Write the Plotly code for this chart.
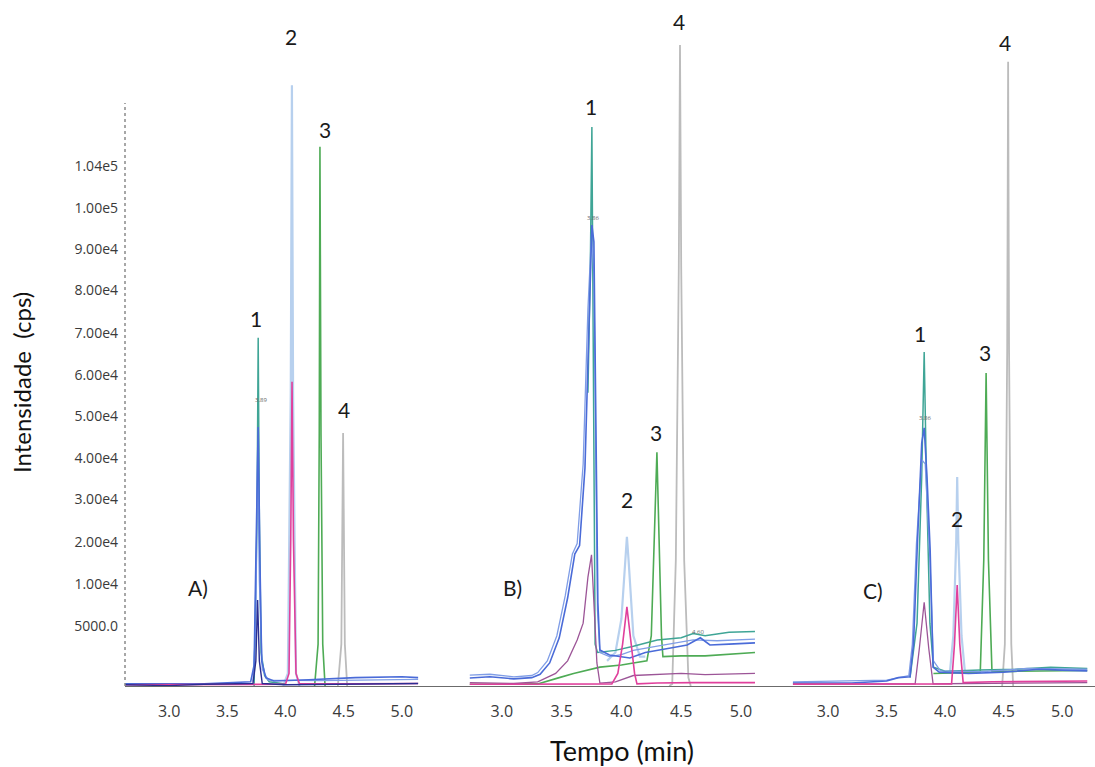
import plotly.graph_objects as go

# ---------------- data (time in min, intensity in axis units) ----------------
# Y tick labels as printed on the original chart (unevenly labelled axis)
y_tick_labels = ["5000.0", "1.00e4", "2.00e4", "3.00e4", "4.00e4", "5.00e4",
                 "6.00e4", "7.00e4", "8.00e4", "9.00e4", "1.00e5", "1.04e5"]
y_tick_pos = [1.42, 2.43, 3.44, 4.45, 5.45, 6.44, 7.43, 8.43, 9.44, 10.43, 11.40, 12.42]
x_tick_vals = [3.0, 3.5, 4.0, 4.5, 5.0]
x_tick_text = ["3.0", "3.5", "4.0", "4.5", "5.0"]

# ---- Panel A ----
A_navy_t = [2.62, 3.0, 3.3, 3.6, 3.72, 3.745, 3.76, 3.775, 3.80, 4.0, 4.5, 5.14]
A_navy_y = [0.03, 0.01, 0.04, 0.05, 0.06, 0.6, 2.05, 0.6, 0.06, 0.03, 0.05, 0.06]
A_blue_t = [2.62, 3.3, 3.70, 3.73, 3.745, 3.765, 3.78, 3.795, 3.83, 3.9, 4.2, 4.6, 5.0, 5.14]
A_blue_y = [0.05, 0.05, 0.1, 0.5, 3.0, 6.18, 3.0, 0.6, 0.2, 0.12, 0.15, 0.2, 0.22, 0.2]
A_lblue_t = [3.72, 3.745, 3.76, 3.775, 3.80, 3.85, 4.3, 5.14]
A_lblue_y = [0.1, 1.5, 5.7, 2.5, 0.4, 0.14, 0.13, 0.16]
A_teal_t = [3.73, 3.755, 3.765, 3.775, 3.79, 3.82, 3.86, 4.0]
A_teal_y = [0.0, 4.0, 8.31, 4.0, 0.8, 0.25, 0.1, 0.05]
A_pale_t = [3.98, 4.02, 4.045, 4.055, 4.065, 4.09, 4.12]
A_pale_y = [0.0, 0.3, 7.0, 14.34, 7.0, 0.3, 0.0]
A_mag_t = [2.62, 3.6, 4.0, 4.03, 4.045, 4.056, 4.068, 4.09, 4.12, 4.6, 5.14]
A_mag_y = [0.03, 0.04, 0.04, 0.3, 3.5, 7.26, 3.5, 0.3, 0.05, 0.05, 0.06]
A_green_t = [4.25, 4.28, 4.29, 4.296, 4.305, 4.32, 4.34]
A_green_y = [0.0, 1.0, 6.0, 12.87, 6.0, 1.0, 0.0]
A_gray_t = [4.45, 4.48, 4.495, 4.51, 4.53]
A_gray_y = [0.0, 1.0, 6.04, 1.0, 0.0]

# ---- Panel B ----
B_blue_t = [2.732, 2.9, 3.1, 3.25, 3.32, 3.40, 3.48, 3.55, 3.61, 3.65, 3.695, 3.728,
            3.753, 3.77, 3.787, 3.803, 3.82, 3.9, 4.07, 4.2, 4.4, 4.55, 4.66, 4.74, 4.9, 5.117]
B_blue_y = [0.19, 0.22, 0.17, 0.2, 0.28, 0.55, 1.15, 2.1, 3.15, 3.35, 5.2, 8.7,
            11.0, 10.6, 6.8, 2.0, 0.86, 0.74, 0.67, 0.8, 0.9, 0.98, 1.15, 0.98, 1.0, 1.03]
B_lblue_t = [2.732, 2.9, 3.1, 3.25, 3.30, 3.38, 3.46, 3.53, 3.59, 3.63, 3.68, 3.72,
             3.75, 3.77, 3.785, 3.80, 3.82, 3.9, 4.0, 4.1, 4.3, 4.5, 4.6, 4.8, 5.117]
B_lblue_y = [0.26, 0.28, 0.22, 0.25, 0.32, 0.6, 1.2, 2.15, 3.15, 3.4, 5.3, 9.0,
             10.8, 9.8, 5.5, 1.8, 0.8, 0.7, 0.75, 0.85, 0.95, 1.05, 1.1, 1.08, 1.12]
B_teal_t = [3.72, 3.74, 3.753, 3.765, 3.78, 3.8, 3.95, 4.1, 4.3, 4.5, 4.6, 4.7, 4.9, 5.117]
B_teal_y = [7.0, 10.0, 13.34, 8.0, 1.0, 0.8, 0.85, 0.95, 1.1, 1.15, 1.25, 1.2, 1.28, 1.3]
B_mauve_t = [2.732, 3.1, 3.3, 3.45, 3.55, 3.63, 3.68, 3.72, 3.75, 3.77, 3.795, 3.82,
             3.95, 4.1, 4.3, 4.5, 4.7, 5.117]
B_mauve_y = [0.08, 0.06, 0.1, 0.3, 0.6, 1.1, 1.5, 2.6, 3.13, 1.8, 0.55, 0.07,
             0.1, 0.25, 0.28, 0.3, 0.27, 0.3]
B_pale_t = [3.88, 3.95, 4.0, 4.035, 4.046, 4.06, 4.1, 4.155, 4.2]
B_pale_y = [0.6, 0.8, 1.6, 3.0, 3.56, 3.0, 1.2, 0.7, 0.7]
B_mag_t = [2.732, 3.3, 3.8, 3.92, 3.97, 4.01, 4.046, 4.08, 4.11, 4.13, 4.3, 4.6, 5.117]
B_mag_y = [0.04, 0.04, 0.05, 0.05, 0.3, 1.0, 1.89, 1.0, 0.3, 0.05, 0.07, 0.08, 0.08]
B_green_t = [2.732, 3.3, 3.48, 3.6, 3.82, 4.0, 4.1, 4.213, 4.25, 4.275, 4.297, 4.315,
             4.335, 4.347, 4.5, 4.7, 4.9, 5.117]
B_green_y = [0.04, 0.05, 0.2, 0.3, 0.45, 0.5, 0.55, 0.6, 1.2, 3.5, 5.58, 3.5,
             1.2, 0.7, 0.72, 0.72, 0.75, 0.8]
B_gray_t = [4.40, 4.425, 4.455, 4.48, 4.49, 4.50, 4.525, 4.56, 4.58]
B_gray_y = [0.0, 0.05, 3.0, 10.0, 15.3, 10.0, 3.0, 0.2, 0.0]

# ---- Panel C ----
C_blue_t = [2.70, 3.2, 3.5, 3.6, 3.70, 3.73, 3.761, 3.80, 3.821, 3.845, 3.872, 3.897,
            3.95, 4.2, 4.5, 4.8, 5.0, 5.214]
C_blue_y = [0.07, 0.07, 0.12, 0.2, 0.22, 1.0, 3.25, 5.8, 6.16, 5.0, 3.25, 0.45,
            0.33, 0.3, 0.33, 0.4, 0.38, 0.36]
C_lblue_t = [2.70, 3.5, 3.69, 3.72, 3.755, 3.80, 3.83, 3.87, 3.90, 3.96, 4.3, 4.7, 5.214]
C_lblue_y = [0.1, 0.14, 0.25, 1.0, 3.4, 5.4, 5.3, 3.0, 0.6, 0.36, 0.34, 0.42, 0.4]
C_teal_t = [3.70, 3.76, 3.80, 3.821, 3.84, 3.87, 3.90, 4.0, 4.3, 4.6, 4.9, 5.214]
C_teal_y = [0.2, 1.5, 5.0, 7.97, 5.0, 1.5, 0.45, 0.35, 0.38, 0.4, 0.45, 0.42]
C_mauve_t = [2.70, 3.5, 3.744, 3.78, 3.821, 3.86, 3.897, 4.2, 5.214]
C_mauve_y = [0.05, 0.05, 0.05, 0.9, 2.0, 0.9, 0.05, 0.06, 0.08]
C_pale_t = [4.04, 4.07, 4.095, 4.103, 4.112, 4.14, 4.17]
C_pale_y = [0.3, 1.2, 3.5, 4.99, 3.5, 1.2, 0.3]
C_mag_t = [2.70, 3.9, 4.055, 4.08, 4.103, 4.125, 4.154, 4.4, 5.214]
C_mag_y = [0.04, 0.05, 0.05, 1.0, 2.41, 1.0, 0.08, 0.1, 0.12]
C_green_t = [3.9, 4.30, 4.33, 4.35, 4.37, 4.40, 4.6, 5.214]
C_green_y = [0.3, 0.33, 3.0, 7.47, 3.0, 0.35, 0.35, 0.37]
C_gray_t = [4.487, 4.51, 4.53, 4.538, 4.546, 4.565, 4.581]
C_gray_y = [0.0, 1.0, 8.0, 14.9, 8.0, 1.0, 0.0]

# peak numbers and panel letters: (text, time, intensity)
A_labels = [("1", 3.747, 8.78), ("2", 4.047, 15.49), ("3", 4.339, 13.27), ("4", 4.502, 6.59), ("A)", 3.249, 2.36)]
B_labels = [("1", 3.745, 13.84), ("4", 4.481, 15.85), ("3", 4.289, 6.04), ("2", 4.046, 4.44), ("B)", 3.092, 2.34)]
C_labels = [("1", 3.786, 8.42), ("3", 4.342, 7.97), ("4", 4.513, 15.37), ("2", 4.103, 3.99), ("C)", 3.385, 2.29)]
small_labels = [("x", "3.89", 3.79, 6.83), ("x2", "3.86", 3.762, 11.17),
                ("x3", "3.86", 3.829, 6.40), ("x2", "4.60", 4.64, 1.29)]

# ---------------- styling ----------------
W, H = 1095, 767
BASE_PX = 686          # pixel row of the baseline
PX_PER_UNIT = 41.9
COL = {
    "navy": "#2b2e92", "blue": "#4a6bd8", "lblue": "#7f9de6", "teal": "#3fa596",
    "pale": "#b7d0ee", "mag": "#e0409c", "mauve": "#9c5597", "green": "#4eab55",
    "gray": "#bcbcbc",
}
WID = {"navy": 1.4, "blue": 1.6, "lblue": 1.3, "teal": 1.5, "pale": 2.2, "mag": 1.6,
       "mauve": 1.3, "green": 1.6, "gray": 1.8}

fig = go.Figure()

def add(xaxis, kind, t, y):
    fig.add_trace(go.Scatter(x=t, y=y, mode="lines", xaxis=xaxis, yaxis="y",
                             line=dict(color=COL[kind], width=WID[kind]),
                             hoverinfo="skip", showlegend=False))

# draw order: lighter / background traces first
for ax, series in [
    ("x", [("gray", A_gray_t, A_gray_y), ("pale", A_pale_t, A_pale_y), ("green", A_green_t, A_green_y),
           ("teal", A_teal_t, A_teal_y), ("lblue", A_lblue_t, A_lblue_y), ("blue", A_blue_t, A_blue_y),
           ("mag", A_mag_t, A_mag_y), ("navy", A_navy_t, A_navy_y)]),
    ("x2", [("gray", B_gray_t, B_gray_y), ("pale", B_pale_t, B_pale_y), ("teal", B_teal_t, B_teal_y),
            ("green", B_green_t, B_green_y), ("lblue", B_lblue_t, B_lblue_y), ("blue", B_blue_t, B_blue_y),
            ("mauve", B_mauve_t, B_mauve_y), ("mag", B_mag_t, B_mag_y)]),
    ("x3", [("gray", C_gray_t, C_gray_y), ("pale", C_pale_t, C_pale_y), ("green", C_green_t, C_green_y),
            ("teal", C_teal_t, C_teal_y), ("lblue", C_lblue_t, C_lblue_y), ("blue", C_blue_t, C_blue_y),
            ("mauve", C_mauve_t, C_mauve_y), ("mag", C_mag_t, C_mag_y)]),
]:
    for kind, t, y in series:
        add(ax, kind, t, y)

y_range = [(BASE_PX - H) / PX_PER_UNIT, BASE_PX / PX_PER_UNIT]
base_paper = (H - BASE_PX) / H

def xaxis_cfg(px0, px1, t0, t1):
    return dict(domain=[px0 / W, px1 / W], range=[t0, t1], anchor="free", position=base_paper,
                showline=True, linecolor="#6b6b6b", linewidth=1.2, showgrid=False, zeroline=False,
                tickvals=x_tick_vals, ticktext=x_tick_text, ticks="", ticklabelstandoff=11,
                tickfont=dict(family="Open Sans, sans-serif", size=16, color="#3a3a3a"))

fig.update_layout(
    width=W, height=H, margin=dict(l=0, r=0, t=0, b=0),
    paper_bgcolor="white", plot_bgcolor="white", showlegend=False,
    xaxis=xaxis_cfg(125, 460, 2.62, 5.50),
    xaxis2=xaxis_cfg(460, 790, 2.65, 5.41),
    xaxis3=xaxis_cfg(790, 1095, 2.675, 5.28),
    yaxis=dict(domain=[0, 1], range=y_range, anchor="free", position=125 / W,
               showline=False, showgrid=False, zeroline=False,
               tickvals=y_tick_pos, ticktext=y_tick_labels, ticks="", ticklabelstandoff=7,
               tickfont=dict(family="Open Sans, sans-serif", size=14, color="#3a3a3a")),
)

# dotted y axis line
fig.add_shape(type="line", xref="paper", yref="y", x0=125 / W, x1=125 / W,
              y0=0, y1=(BASE_PX - 103) / PX_PER_UNIT,
              line=dict(color="#8a8a8a", width=1.5, dash="dot"))

for ax, labels in [("x", A_labels), ("x2", B_labels), ("x3", C_labels)]:
    for txt, t, y in labels:
        fig.add_annotation(x=t, y=y, xref=ax, yref="y", text=txt, showarrow=False,
                           xanchor="center", yanchor="middle",
                           font=dict(family="Lato, sans-serif", size=21, color="#1a1a1a"))
for ax, txt, t, y in small_labels:
    fig.add_annotation(x=t, y=y, xref=ax, yref="y", text=txt, showarrow=False,
                       xanchor="center", yanchor="middle",
                       font=dict(family="Open Sans, sans-serif", size=6, color="#666666"))

fig.add_annotation(x=22 / W, y=(H - 383) / H, xref="paper", yref="paper",
                   text="Intensidade  (cps)", textangle=-90, showarrow=False,
                   xanchor="center", yanchor="middle",
                   font=dict(family="Lato, sans-serif", size=24, color="#111111"))
fig.add_annotation(x=622 / W, y=(H - 750) / H, xref="paper", yref="paper",
                   text="Tempo (min)", showarrow=False,
                   xanchor="center", yanchor="middle",
                   font=dict(family="Lato, sans-serif", size=27, color="#111111"))

fig.write_html("out.html")
